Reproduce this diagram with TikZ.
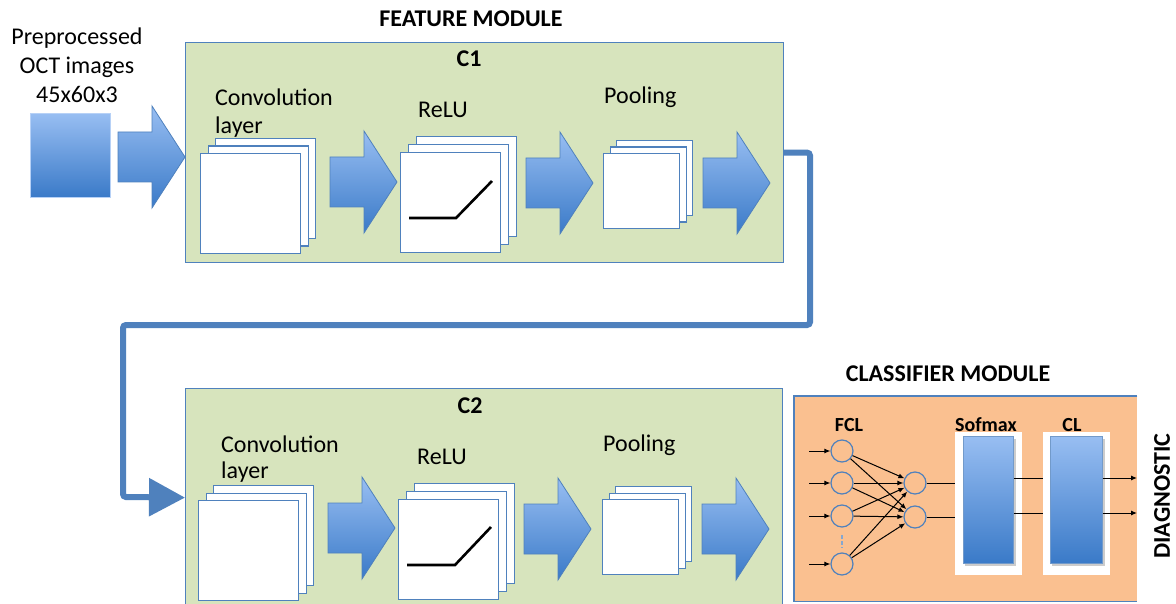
\documentclass[tikz,border=0pt]{standalone}
\usepackage{fontspec}
\setmainfont{Carlito}
\usetikzlibrary{arrows.meta,calc}
\definecolor{bord}{HTML}{4F81BD}
\definecolor{modgreen}{HTML}{D7E4BD}
\definecolor{peach}{HTML}{FAC090}
\definecolor{gradtop}{RGB}{152,190,242}
\definecolor{gradbot}{RGB}{58,122,200}
\tikzset{
  modbox/.style={draw=bord, line width=1.2pt, fill=modgreen, anchor=north west, inner sep=0},
  page/.style={draw=bord, line width=1.2pt, fill=white, anchor=north west, inner sep=0},
  barrowstyle/.style={draw=bord, line width=0.8pt, top color=gradtop, bottom color=gradbot},
  gradbox/.style={draw=bord!80, line width=0.6pt, top color=gradtop, bottom color=gradbot, anchor=north west, inner sep=0},
  whitebox/.style={fill=white, draw=none, anchor=north west, inner sep=0},
  lbl/.style={font=\fontsize{24}{28}\selectfont, anchor=base west, inner sep=0},
  lblc/.style={font=\fontsize{24}{28}\selectfont, anchor=base, inner sep=0},
  ttl/.style={font=\fontsize{24}{28}\selectfont\bfseries, anchor=base, inner sep=0},
  small/.style={font=\fontsize{20}{24}\selectfont\bfseries, anchor=base, inner sep=0},
  neuron/.style={circle, draw=bord, line width=1.2pt, minimum size=22pt, inner sep=0},
  sarr/.style={line width=1pt, -{Latex[length=6pt,width=5pt]}},
  thinl/.style={line width=1pt},
  conn/.style={draw=bord, line width=6pt, rounded corners=3pt, -{Triangle[length=36pt,width=37pt]}},
  relu/.style={line width=2.6pt, black}
}
\newcommand\blockarr[2]{%
  \path[barrowstyle] (#1,#2-25) -- ++(34,0) -- ++(0,-26) -- (#1+67,#2) -- (#1+34,#2+51) -- ++(0,-26) -- (#1,#2+25) -- cycle;}
\newcommand\stackpg[6]{%
  \node[page, minimum width=#4, minimum height=#5] (#1b) at (#2+2*#6,#3-2*#6) {};
  \node[page, minimum width=#4, minimum height=#5] (#1m) at (#2+#6,#3-#6) {};
  \node[page, minimum width=#4, minimum height=#5] (#1) at (#2,#3) {};}
\begin{document}
\begin{tikzpicture}[x=1pt,y=-1pt]
\clip (0,0) rectangle (1176,604);
\fill[white] (0,0) rectangle (1176,604);

% input
\node[lblc] (t1) at (77,45) {Preprocessed};
\node[lblc] (t2) at (77,74) {OCT images};
\node[lblc] (t3) at (77,103) {45x60x3};
\node[gradbox, draw=gradtop!70!white, minimum width=80, minimum height=84] (inp) at (30,113) {};
\blockarr{118}{157}

% modules
\node[ttl] (fm) at (471,27) {FEATURE MODULE};
\node[modbox, minimum width=598, minimum height=220] (C1) at (185,42) {};
\node[modbox, minimum width=597, minimum height=218] (C2) at (185,388) {};

\draw[conn] (C1.east) -| (810,325) -| (123,497) -- (C2.west);

% C1 content
\node[ttl] (c1t) at (469,67) {C1};
\node[lbl] (cv1a) at (215,106) {Convolution};
\node[lbl] (cv1b) at (215,134) {layer};
\node[lbl] (re1) at (418,118) {ReLU};
\node[lbl] (po1) at (604,104) {Pooling};
\stackpg{conv1}{200}{153}{100}{100}{7.5}
\blockarr{330}{182}
\stackpg{relu1}{400}{152}{100}{100}{8}
\draw[relu, shift={(relu1.north west)}] (9,66) -- (56,66) -- (92,29);
\blockarr{526}{183}
\stackpg{pool1}{603}{153}{76}{75}{6.5}
\blockarr{703}{183}

% C2 content
\node[ttl] (c2t) at (470,413) {C2};
\node[lbl] (cv2a) at (221,452) {Convolution};
\node[lbl] (cv2b) at (221,478) {layer};
\node[lbl] (re2) at (417,464) {ReLU};
\node[lbl] (po2) at (603,451) {Pooling};
\stackpg{conv2}{198}{500}{100}{100}{7.5}
\blockarr{328}{528}
\stackpg{relu2}{398}{499}{100}{100}{8}
\draw[relu, shift={(relu2.north west)}] (9,66) -- (57,66) -- (93,28);
\blockarr{524}{529}
\stackpg{pool2}{602}{499}{76}{75}{6.5}
\blockarr{702}{529}

% classifier
\node[ttl] (cm) at (948,381) {CLASSIFIER MODULE};
\node[fill=peach, minimum width=343, minimum height=205, anchor=north west, inner sep=0] (clf) at (794,396) {};
\draw[bord, line width=1.2pt] (clf.north east) -- (clf.north west) -- (clf.south west) -- (clf.south east);
\node[small] (fcl) at (849,431) {FCL};
\node[neuron] (f1) at (842,451) {};
\node[neuron] (f2) at (842,483) {};
\node[neuron] (f3) at (842,516) {};
\node[neuron] (f4) at (842,564) {};
\draw[bord!70, line width=1.5pt, dash pattern=on 4pt off 2pt] (842,535) -- (842,548);
\node[neuron] (h1) at (915,483) {};
\node[neuron] (h2) at (915,517) {};
\foreach \i/\y in {1/451,2/483,3/516,4/564}{
  \coordinate (in\i) at (809,\y);
  \draw[sarr] (in\i) -- (f\i);
}
\foreach \a in {f1,f2,f3,f4}{
  \foreach \b in {h1,h2}{ \draw[sarr] (\a) -- (\b); }
}
\node[whitebox, minimum width=67, minimum height=143] (smw) at (955,432) {};
\node[whitebox, minimum width=67, minimum height=143] (clw) at (1043,432) {};
\fill[black!20] (965,439) rectangle (1016,566);
\fill[black!20] (1052,439) rectangle (1105,566);
\node[gradbox, minimum width=50, minimum height=127] (sm) at (963,436) {};
\node[gradbox, minimum width=52, minimum height=127] (cl) at (1050,436) {};
\node[small] (smt) at (986,431) {Sofmax};
\node[small] (clt) at (1072,431) {CL};
\draw[thinl] (h1) -- (smw.west |- h1);
\draw[thinl] (h2) -- (smw.west |- h2);
\coordinate (o1) at (1137,478);
\coordinate (o2) at (1137,513);
\draw[thinl] (sm.east |- o1) -- (clw.west |- o1);
\draw[thinl] (sm.east |- o2) -- (clw.west |- o2);
\draw[sarr] (cl.east |- o1) -- (o1);
\draw[sarr] (cl.east |- o2) -- (o2);
\node[font=\fontsize{24}{28}\selectfont\bfseries, rotate=90, inner sep=0] (diag) at (1162,496) {DIAGNOSTIC};
\end{tikzpicture}
\end{document}
